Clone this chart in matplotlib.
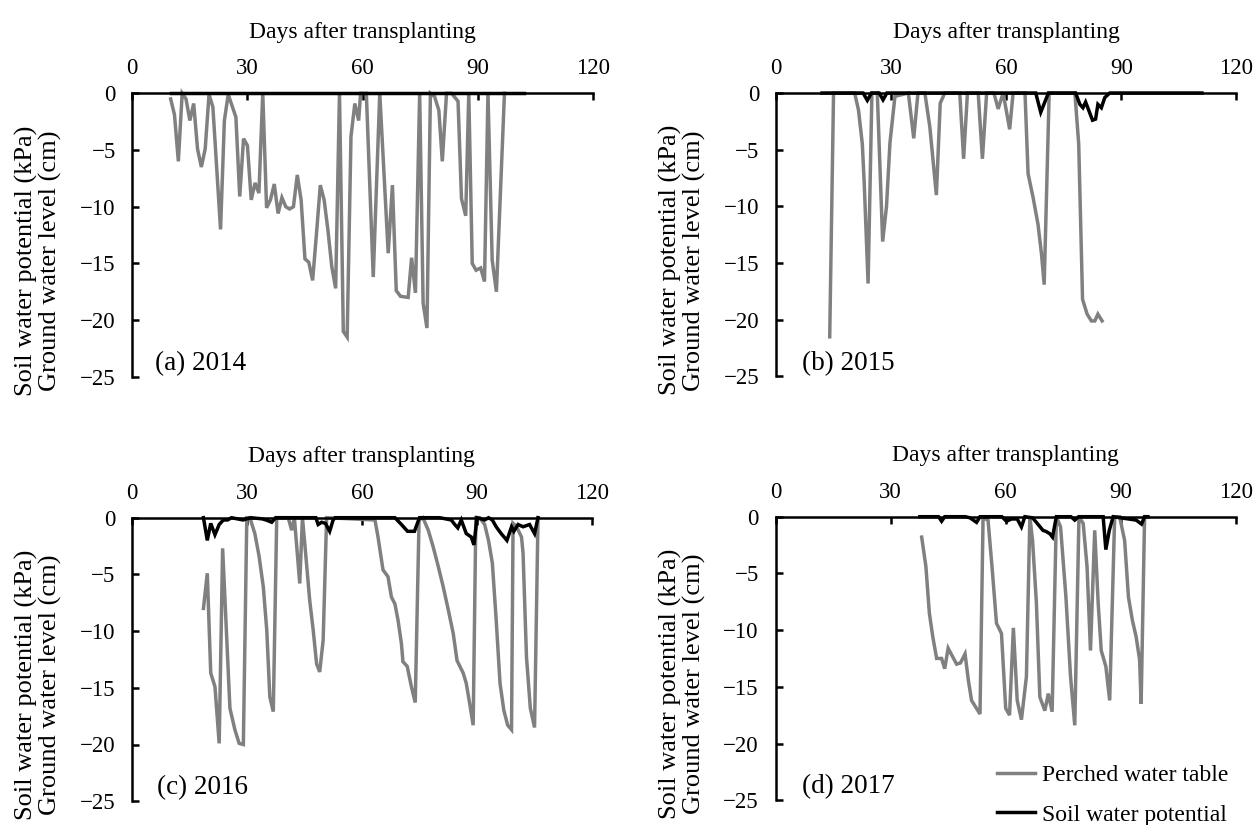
import matplotlib
matplotlib.use("Agg")
import matplotlib.pyplot as plt
from matplotlib.lines import Line2D

plt.rcParams['font.family'] = ['Liberation Serif', 'DejaVu Serif']
plt.rcParams['font.size'] = 16.5

# ---------------- data ----------------
# (a) 2014
a_pwt_day = [10, 11, 12, 13, 14, 15, 16, 17, 18, 19, 20, 21, 23, 24, 25, 27, 28, 29, 30, 31, 32, 33,
             34, 35, 36, 37, 38, 39, 40, 41, 42, 43, 44, 45, 46, 47, 48, 49, 50, 51, 52, 53, 54,
             55, 56, 57, 58, 59, 59.5, 61, 62.8, 64.5, 66.7, 67.8, 68.8, 69.9, 71.9, 72.8, 73.8,
             74.9, 75.8, 76.8, 77.7, 78.8, 79.9, 80.8, 81.9, 83.2, 84.9, 85.8, 86.9, 87.7, 88.6,
             89.6, 90.8, 91.8, 92.7, 93.8, 94.9, 97.0]
a_pwt_val = [-0.5, -1.9, -6.0, 0, -0.5, -2.4, -0.9, -4.9, -6.5, -4.9, -0.1, -1.2, -12.0, -2.4, -0.1,
             -2.1, -9.1, -4.0, -4.6, -9.4, -7.9, -8.8, 0, -10.1, -9.4, -8.0, -10.6, -9.2, -10.0,
             -10.2, -10.0, -7.2, -9.4, -14.6, -14.9, -16.5, -12.4, -8.1, -9.4, -12.1, -15.3, -17.2,
             0, -21.0, -21.5, -3.8, -0.9, -2.4, 0, 0, -16.2, 0, -14.1, -8.1, -17.4, -17.9, -18.0,
             -14.5, -17.6, 0, -18.5, -20.7, 0, -0.3, -1.5, -6.0, 0, 0, -0.7, -9.3, -10.8, 0, -15.0,
             -15.6, -15.4, -16.6, 0, -14.7, -17.5, 0]
a_swp_day = [10, 102]
a_swp_val = [0, 0]

# (b) 2015
b_pwt_day = [14, 15, 20.5, 21.5, 22.5, 23, 24, 25, 26.4, 27.8, 28.8, 29.7, 31, 34.5, 35.9, 37, 38.8,
             40.1, 41.8, 42.8, 44, 47.9, 48.9, 49.9, 52.7, 53.8, 54.9, 56.8, 57.9, 59.2, 60.9, 61.8,
             64.9, 65.7, 67.0, 68.3, 69.2, 69.9, 71.2, 77.9, 78.9, 79.9, 81.1, 82.2, 83.1, 83.9, 85.0]
b_pwt_val = [-21.5, 0, 0, -1.5, -4.5, -8.0, -16.8, 0, 0, -13.1, -10.0, -4.4, -0.3, 0, -4.0, 0, 0,
             -3.0, -9.0, -0.9, 0, 0, -5.8, 0, 0, -5.8, 0, 0, -1.4, 0, -3.2, 0,
             0, -7.1, -9.2, -11.6, -14.2, -16.9, 0, 0, -4.5, -18.2, -19.5, -20.1, -20.1, -19.5, -20.1]
b_swp_day = [12, 22.7, 23.8, 24.9, 26.9, 27.9, 28.9, 67.7, 69.0, 71.0, 78.1, 79.2, 80.0, 80.7, 81.6,
             82.5, 83.3, 83.9, 84.8, 85.7, 87.0, 111]
b_swp_val = [0, 0, -0.65, 0, 0, -0.6, 0, 0, -1.7, 0, 0, -1.0, -1.3, -0.8, -1.6, -2.4, -2.3, -1.0,
             -1.3, -0.4, 0, 0]

# (c) 2016
c_pwt_day = [18.7, 19.7, 20.6, 21.7, 22.8, 23.7, 25.6, 26.9, 28.0, 29.1, 30.0, 30.8, 32.1, 33.2, 34.3,
             35.2, 36.0, 36.9, 37.8, 40.8, 41.7, 42.4, 43.8, 44.5, 45.4, 46.4, 47.3, 48.2, 49.0,
             49.9, 50.8, 63.4, 64.2, 65.5, 66.8, 67.7, 68.6, 69.4, 70.3, 70.7, 71.8, 72.9, 73.9,
             74.9, 75.9, 77.3, 78.6, 79.9, 81.2, 82.5, 83.8, 84.8, 86.4, 87.2, 88.1, 89.0, 89.7,
             90.7, 92.0, 93.0, 94.0, 95.0, 96.0, 97.0, 98.0, 99.0, 99.4, 100.3, 101.6, 102.0, 102.9,
             103.9, 105.0, 105.9]
c_pwt_val = [-8.0, -4.9, -13.7, -14.9, -19.9, -2.7, -16.8, -18.7, -19.9, -20.0, 0, 0, -1.4, -3.4, -6.1,
             -9.9, -15.8, -17.1, 0, 0, -1.1, 0, -5.8, 0, -3.4, -7.3, -9.9, -12.9, -13.6,
             -10.8, 0, -0.2, -1.7, -4.6, -5.2, -7.0, -7.6, -9.0, -11.1, -12.7, -13.1, -14.9, -16.3,
             -0.2, 0, -1.1, -2.6, -4.3, -6.1, -8.1, -10.2, -12.6, -13.7, -14.6, -16.4, -18.3, 0,
             0, -0.6, -2.0, -4.0, -9.0, -14.6, -17.0, -18.3, -18.7, -0.5, -0.8, -1.7, -3.1, -12.3,
             -16.8, -18.5, 0]
c_swp_day = [18.7, 19.7, 20.6, 21.7, 22.8, 23.9, 25.0, 26.0, 29.0, 30.0, 31.0, 34.0, 35.0, 36.5, 37.5,
             48.0, 48.6, 49.5, 50.5, 51.6, 52.5, 53.0, 68.6, 70.3, 71.9, 73.7, 75.0, 80.3, 83.3,
             84.2, 85.0, 85.9, 87.2, 88.5, 89.2, 90.0, 92.0, 93.0, 94.0, 95.0, 96.3, 97.8, 99.0,
             99.6, 100.7, 102.0, 103.7, 105.0, 105.9]
c_swp_val = [0, -2.0, -0.5, -1.5, -0.6, -0.2, -0.2, 0, -0.2, -0.1, 0, -0.1, -0.2, -0.4, 0,
             0, -0.6, -0.4, -0.5, -1.2, -0.2, 0, 0, -0.6, -1.2, -1.2, 0, 0, -0.2,
             -0.6, -0.9, -0.2, -1.4, -1.7, -2.4, 0, -0.2, 0, -0.2, -0.8, -1.4, -2.0, -0.8,
             -1.2, -0.6, -0.8, -0.6, -1.4, 0]

# (d) 2017
d_pwt_day = [38.1, 39.2, 40.1, 41.0, 42.0, 43.3, 44.1, 45.0, 46.1, 47.2, 48.2, 49.4, 50.3, 51.1, 52.2,
             53.3, 54.1, 55.4, 56.5, 57.6, 58.9, 60.0, 61.0, 62.0, 63.0, 64.1, 65.4, 66.3, 67.0,
             68.0, 68.9, 70.2, 71.1, 72.1, 73.2, 74.3, 75.7, 76.9, 78.0, 79.1, 80.2, 81.2, 82.1,
             83.2, 84.1, 84.9, 86.1, 87.1, 88.4, 89.7, 91.0, 92.0, 93.0, 94.0, 94.9, 95.3, 96.2, 97.1]
d_pwt_val = [-1.8, -4.4, -8.5, -10.6, -12.5, -12.5, -13.4, -11.6, -12.3, -13.0, -12.9, -12.1, -14.5,
             -16.2, -16.8, -17.4, -0.1, -0.3, -4.7, -9.4, -10.3, -16.9, -17.5, -9.8, -16.2, -17.9,
             -14.1, 0, -2.1, -7.6, -15.9, -17.1, -15.6, -17.2, 0, -0.9, -7.1, -14.1, -18.4, 0,
             -0.6, -4.4, -11.8, -1.2, -7.6, -11.8, -13.2, -16.2, 0, 0, -2.1, -7.1, -9.1, -10.6,
             -12.6, -16.5, 0, 0]
d_swp_day = [37.6, 42.5, 43.3, 44.1, 49.5, 50.7, 52.4, 53.3, 59.0, 60.2, 61.5, 63.0, 64.1, 65.0, 67.0,
             68.0, 69.7, 70.5, 71.5, 72.2, 73.2, 77.0, 78.0, 79.0, 85.4, 86.1, 87.0, 88.0, 94.0,
             95.4, 96.2, 97.0]
d_swp_val = [0, 0, -0.4, 0, 0, -0.1, -0.5, 0, 0, -0.4, -0.2, -0.2, -0.9, 0, -0.1,
             -0.5, -1.2, -1.3, -1.5, -1.8, 0, 0, -0.3, 0, 0, -2.9, -1.2, 0, -0.3,
             -0.65, 0, 0]

panels = [
    ("(a) 2014", a_pwt_day, a_pwt_val, a_swp_day, a_swp_val),
    ("(b) 2015", b_pwt_day, b_pwt_val, b_swp_day, b_swp_val),
    ("(c) 2016", c_pwt_day, c_pwt_val, c_swp_day, c_swp_val),
    ("(d) 2017", d_pwt_day, d_pwt_val, d_swp_day, d_swp_val),
]

x_ticks = [0, 30, 60, 90, 120]
y_ticks = [0, -5, -10, -15, -20, -25]

# ---------------- figure ----------------
W, H = 1256, 825
fig = plt.figure(figsize=(W / 100, H / 100), dpi=100)

ax_w = 460.4
ax_h = 283.5
lefts = [132.3, 776.0, 131.7, 775.5]
tops = [93.3, 93.0, 517.7, 516.7]
label_x = [0.049, 0.056, 0.055, 0.057]

GRAY = '#808080'
LW = 2.5
for i, (lab, pd_, pv, sd, sv) in enumerate(panels):
    l, t = lefts[i], tops[i]
    ax = fig.add_axes([l / W, 1 - (t + ax_h) / H, ax_w / W, ax_h / H])
    ax.plot(pd_, pv, color=GRAY, lw=LW, zorder=3, clip_on=False, solid_joinstyle='miter')
    ax.plot(sd, sv, color='black', lw=LW, zorder=4, clip_on=False, solid_joinstyle='miter')
    ax.set_xlim(0, 120)
    ax.set_ylim(-25, 0)
    ax.set_xticks(x_ticks)
    ax.set_yticks(y_ticks)
    ax.xaxis.tick_top()
    ax.xaxis.set_label_position('top')
    ax.spines['bottom'].set_visible(False)
    ax.spines['right'].set_visible(False)
    for s in ('top', 'left'):
        ax.spines[s].set_linewidth(1.8)
        ax.spines[s].set_zorder(3.5)
    ax.tick_params(axis='x', direction='in', length=5, width=1.8, pad=10, labelsize=16.5)
    ax.tick_params(axis='y', direction='in', length=5, width=1.8, pad=12, labelsize=16.5)
    ax.set_xlabel('Days after transplanting', fontsize=17)
    ax.xaxis.set_label_coords(0.5, 1.195)
    ax.set_ylabel('Soil water potential (kPa)\nGround water level (cm)', fontsize=19,
                  linespacing=1.05)
    ax.yaxis.set_label_coords(-0.152, 0.41)
    ax.text(label_x[i], 0.024, lab, transform=ax.transAxes, ha='left', va='baseline',
            fontsize=19.5)

handles = [Line2D([], [], color=GRAY, lw=LW), Line2D([], [], color='black', lw=LW)]
fig.legend(handles, ['Perched water table', 'Soil water potential'],
           loc='center left', bbox_to_anchor=(997 / W, 1 - 795 / H), frameon=False,
           borderpad=0, borderaxespad=0, handlelength=1.6, handletextpad=0.3,
           labelspacing=0.76, fontsize=17)

fig.savefig('out.png', dpi=100)
